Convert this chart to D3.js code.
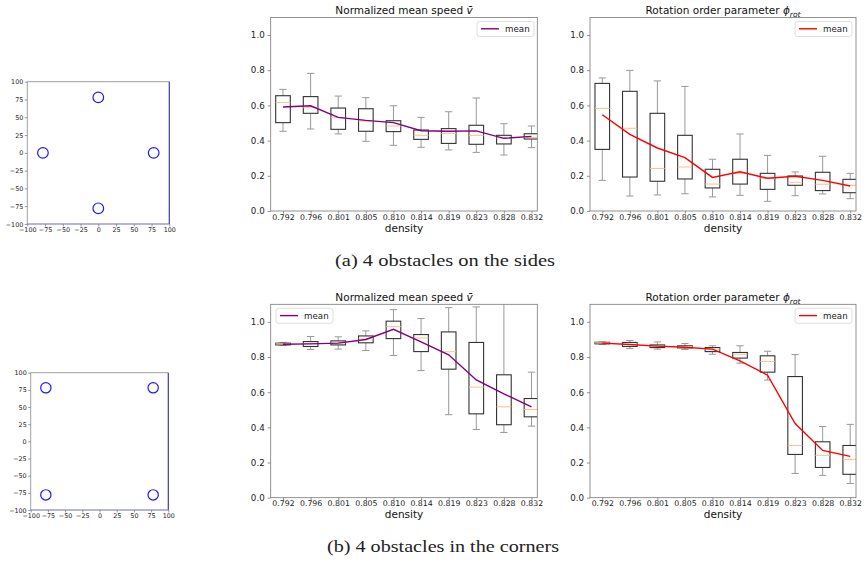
<!DOCTYPE html>
<html><head><meta charset="utf-8">
<script src="https://cdn.jsdelivr.net/npm/d3@7"></script>
<style>
body{margin:0;background:#fff;}
svg{display:block;font-family:"DejaVu Sans",sans-serif;}
</style></head>
<body><svg id="c" width="867" height="563"></svg>
<script>
// ---------- data ----------
const densities = ["0.792","0.796","0.801","0.805","0.810","0.814","0.819","0.823","0.828","0.832"];
const yTicks = [0.0,0.2,0.4,0.6,0.8,1.0];
const arenaTicks = [-100,-75,-50,-25,0,25,50,75,100];

// obstacles (arena coordinates)
const sidesObsX = [0,-78,78,0];
const sidesObsY = [78,0,0,-78];
const cornersObsX = [-78,78,-78,78];
const cornersObsY = [78,78,-78,-78];
const obstacleRadius = 7.5;

// (a) sides – normalized mean speed
const sidesSpeedLo   = [0.453,0.466,0.438,0.396,0.373,0.362,0.347,0.333,0.318,0.360];
const sidesSpeedQ1   = [0.502,0.555,0.464,0.453,0.451,0.407,0.384,0.379,0.381,0.409];
const sidesSpeedMed  = [0.617,0.589,0.530,0.511,0.483,0.430,0.441,0.430,0.415,0.417];
const sidesSpeedQ3   = [0.655,0.650,0.585,0.581,0.513,0.460,0.468,0.487,0.430,0.439];
const sidesSpeedHi   = [0.691,0.782,0.653,0.644,0.598,0.532,0.564,0.642,0.496,0.483];
const sidesSpeedMean = [0.591,0.598,0.532,0.515,0.502,0.456,0.453,0.455,0.413,0.424];

// (a) sides – rotation order parameter
const sidesRotLo   = [0.174,0.085,0.091,0.098,0.080,0.089,0.055,0.087,0.097,0.070];
const sidesRotQ1   = [0.350,0.193,0.169,0.182,0.131,0.153,0.123,0.146,0.116,0.104];
const sidesRotMed  = [0.583,0.470,0.242,0.250,0.153,0.214,0.186,0.163,0.152,0.146];
const sidesRotQ3   = [0.725,0.680,0.555,0.430,0.237,0.294,0.214,0.199,0.220,0.180];
const sidesRotHi   = [0.756,0.799,0.739,0.708,0.294,0.4375,0.316,0.222,0.311,0.214];
const sidesRotMean = [0.547,0.435,0.358,0.303,0.191,0.223,0.186,0.197,0.174,0.142];

// (b) corners – normalized mean speed
const cornersSpeedLo   = [0.866,0.843,0.845,0.837,0.809,0.723,0.472,0.388,0.371,0.407];
const cornersSpeedQ1   = [0.869,0.860,0.869,0.881,0.905,0.831,0.731,0.477,0.415,0.460];
const cornersSpeedMed  = [0.875,0.877,0.881,0.903,0.973,0.909,0.830,0.629,0.517,0.502];
const cornersSpeedQ3   = [0.879,0.888,0.892,0.920,1.004,0.928,0.943,0.883,0.699,0.564];
const cornersSpeedHi   = [0.883,0.917,0.915,0.949,1.070,1.019,1.081,1.085,1.150,0.714];
const cornersSpeedMean = [0.873,0.875,0.879,0.900,0.958,0.886,0.8125,0.670,0.591,0.517];

// (b) corners – rotation order parameter
const cornersRotLo   = [0.871,0.848,0.845,0.843,0.816,0.765,0.669,0.138,0.127,0.081];
const cornersRotQ1   = [0.875,0.860,0.854,0.852,0.831,0.794,0.714,0.246,0.172,0.133];
const cornersRotMed  = [0.881,0.871,0.862,0.858,0.845,0.816,0.775,0.297,0.241,0.218];
const cornersRotQ3   = [0.884,0.883,0.869,0.864,0.854,0.826,0.807,0.689,0.318,0.297];
const cornersRotHi   = [0.886,0.894,0.886,0.877,0.864,0.864,0.833,0.814,0.405,0.417];
const cornersRotMean = [0.879,0.871,0.862,0.856,0.845,0.778,0.697,0.422,0.269,0.235];

const captions = ["(a) 4 obstacles on the sides","(b) 4 obstacles in the corners"];

// ---------- drawing ----------
const svg = d3.select("#c");
const defs = svg.append("defs");
let clipId = 0;

function arena(box, xs, ys){
  const x = d3.scaleLinear().domain([-100,100]).range([box.l, box.r]);
  const y = d3.scaleLinear().domain([-100,100]).range([box.b, box.t]);
  const g = svg.append("g");
  g.selectAll("circle").data(xs.map((v,i)=>({x:v,y:ys[i]}))).join("circle")
    .attr("cx",d=>x(d.x)).attr("cy",d=>y(d.y))
    .attr("r", x(obstacleRadius)-x(0))
    .attr("fill","none").attr("stroke","#1a1aff").attr("stroke-width",1.2);
  const fmt = d => d<0 ? "\u2212"+Math.abs(d) : String(d);
  const xa = g.append("g").attr("transform",`translate(0,${box.b})`)
    .call(d3.axisBottom(x).tickValues(arenaTicks).tickFormat(fmt).tickSize(2.5).tickPadding(1.2));
  const ya = g.append("g").attr("transform",`translate(${box.l},0)`)
    .call(d3.axisLeft(y).tickValues(arenaTicks).tickFormat(fmt).tickSize(2.5).tickPadding(1.5));
  [xa,ya].forEach(a=>{
    a.select(".domain").remove();
    a.selectAll("line").attr("stroke","#555").attr("stroke-width",0.6);
    a.selectAll("text").attr("font-size",6.4).attr("fill","#222").attr("font-family","DejaVu Sans");
  });
  g.append("line").attr("x1",box.l).attr("x2",box.r).attr("y1",box.t).attr("y2",box.t).attr("stroke","#888").attr("stroke-width",0.8);
  g.append("line").attr("x1",box.l).attr("x2",box.l).attr("y1",box.t).attr("y2",box.b).attr("stroke","#888").attr("stroke-width",0.8);
  g.append("line").attr("x1",box.r).attr("x2",box.r).attr("y1",box.t).attr("y2",box.b).attr("stroke","#3a3aa8").attr("stroke-width",1.2);
  g.append("line").attr("x1",box.l).attr("x2",box.r).attr("y1",box.b).attr("y2",box.b).attr("stroke","#6a6ac0").attr("stroke-width",1.0);
}

function boxPanel(box, lo, q1, med, q3, hi, mean, meanColor, titleFn, legendPos){
  const x = d3.scaleLinear().domain([0.554,10.21]).range([box.l, box.r]);
  const y = d3.scaleLinear().domain([0,1.1]).range([box.b, box.t]);
  const g = svg.append("g");
  const id = "clip"+(clipId++);
  defs.append("clipPath").attr("id",id).append("rect")
    .attr("x",box.l).attr("y",box.t).attr("width",box.r-box.l).attr("height",box.b-box.t);
  const pg = g.append("g").attr("clip-path",`url(#${id})`);
  const bw = 0.53, cw = 0.265;
  const data = densities.map((d,i)=>({i:i+1,lo:lo[i],q1:q1[i],med:med[i],q3:q3[i],hi:hi[i],mean:mean[i]}));
  const bg = pg.selectAll("g.bx").data(data).join("g").attr("class","bx");
  // whiskers
  bg.append("line").attr("x1",d=>x(d.i)).attr("x2",d=>x(d.i)).attr("y1",d=>y(d.q3)).attr("y2",d=>y(d.hi)).attr("stroke","#999").attr("stroke-width",1);
  bg.append("line").attr("x1",d=>x(d.i)).attr("x2",d=>x(d.i)).attr("y1",d=>y(d.q1)).attr("y2",d=>y(d.lo)).attr("stroke","#999").attr("stroke-width",1);
  // caps
  bg.append("line").attr("x1",d=>x(d.i-cw/2)).attr("x2",d=>x(d.i+cw/2)).attr("y1",d=>y(d.hi)).attr("y2",d=>y(d.hi)).attr("stroke","#999").attr("stroke-width",1);
  bg.append("line").attr("x1",d=>x(d.i-cw/2)).attr("x2",d=>x(d.i+cw/2)).attr("y1",d=>y(d.lo)).attr("y2",d=>y(d.lo)).attr("stroke","#999").attr("stroke-width",1);
  // boxes
  bg.append("rect").attr("x",d=>x(d.i-bw/2)).attr("width",d=>x(d.i+bw/2)-x(d.i-bw/2))
    .attr("y",d=>y(d.q3)).attr("height",d=>Math.max(0.5,y(d.q1)-y(d.q3)))
    .attr("fill","none").attr("stroke","#333").attr("stroke-width",1.1);
  // medians
  bg.append("line").attr("x1",d=>x(d.i-bw/2)).attr("x2",d=>x(d.i+bw/2)).attr("y1",d=>y(d.med)).attr("y2",d=>y(d.med)).attr("stroke","#ffbf8a").attr("stroke-width",1);
  // mean line
  pg.append("path").datum(data)
    .attr("d",d3.line().x(d=>x(d.i)).y(d=>y(d.mean)))
    .attr("fill","none").attr("stroke",meanColor).attr("stroke-width",1.4);
  // axes
  const xa = g.append("g").attr("transform",`translate(0,${box.b})`)
    .call(d3.axisBottom(x).tickValues(d3.range(1,11)).tickFormat(i=>densities[i-1]).tickSize(2.5).tickPadding(0.5));
  const ya = g.append("g").attr("transform",`translate(${box.l},0)`)
    .call(d3.axisLeft(y).tickValues(yTicks).tickFormat(d3.format(".1f")).tickSize(3).tickPadding(3));
  [xa,ya].forEach(a=>{
    a.select(".domain").remove();
    a.selectAll("line").attr("stroke","#666").attr("stroke-width",0.7);
    a.selectAll("text").attr("fill","#222").attr("font-family","DejaVu Sans");
  });
  xa.selectAll("text").attr("font-size",7.8);
  ya.selectAll("text").attr("font-size",8.7);
  g.append("rect").attr("x",box.l).attr("y",box.t).attr("width",box.r-box.l).attr("height",box.b-box.t)
    .attr("fill","none").attr("stroke","#777").attr("stroke-width",0.8);
  // labels
  g.append("text").attr("x",(box.l+box.r)/2).attr("y",box.b+20.5).attr("text-anchor","middle")
    .attr("font-size",10.5).attr("fill","#111").text("density");
  const t = g.append("text").attr("x",(box.l+box.r)/2).attr("y",box.t-3).attr("text-anchor","middle")
    .attr("font-size",10.5).attr("fill","#111");
  titleFn(t);
  // legend
  const lg = g.append("g").attr("transform",`translate(${legendPos[0]},${legendPos[1]})`);
  lg.append("rect").attr("width",57).attr("height",15).attr("rx",2.5)
    .attr("fill","#fff").attr("fill-opacity",0.8).attr("stroke","#d6d6d6").attr("stroke-width",0.8);
  lg.append("line").attr("x1",4).attr("x2",22).attr("y1",7.3).attr("y2",7.3).attr("stroke",meanColor).attr("stroke-width",1.4);
  lg.append("text").attr("x",28).attr("y",10.4).attr("font-size",8.7).attr("fill","#222").text("mean");
}

const speedTitle = t => { t.append("tspan").text("Normalized mean speed ");
  t.append("tspan").attr("font-style","italic").text("v\u0304"); };
const rotTitle = t => { t.append("tspan").text("Rotation order parameter ");
  t.append("tspan").attr("font-style","italic").text("\u03d5");
  t.append("tspan").attr("font-style","italic").attr("font-size",7.5).attr("dy",2.5).text("rot"); };

arena({l:27.3,r:169.3,t:81.7,b:224}, sidesObsX, sidesObsY);
arena({l:30.7,r:168.3,t:372.7,b:510}, cornersObsX, cornersObsY);

boxPanel({l:270.7,r:537.3,t:17.4,b:211}, sidesSpeedLo,sidesSpeedQ1,sidesSpeedMed,sidesSpeedQ3,sidesSpeedHi,sidesSpeedMean,"#800080",speedTitle,[477,21.5]);
boxPanel({l:590,r:856,t:17.4,b:211}, sidesRotLo,sidesRotQ1,sidesRotMed,sidesRotQ3,sidesRotHi,sidesRotMean,"#ff0000",rotTitle,[795,21.5]);
boxPanel({l:270.7,r:537.3,t:304.3,b:497.7}, cornersSpeedLo,cornersSpeedQ1,cornersSpeedMed,cornersSpeedQ3,cornersSpeedHi,cornersSpeedMean,"#800080",speedTitle,[276,308.3]);
boxPanel({l:590,r:856,t:304.3,b:497.7}, cornersRotLo,cornersRotQ1,cornersRotMed,cornersRotQ3,cornersRotHi,cornersRotMean,"#ff0000",rotTitle,[795,308.3]);

// captions
const capPos = [[335,266,220],[327,552,232]];
captions.forEach((c,i)=>{
  svg.append("text").attr("x",capPos[i][0]).attr("y",capPos[i][1])
    .attr("font-family","'Liberation Serif','DejaVu Serif',serif").attr("font-size",17.5).attr("fill","#222")
    .attr("textLength",capPos[i][2]).attr("lengthAdjust","spacingAndGlyphs").text(c);
});
</script></body></html>
